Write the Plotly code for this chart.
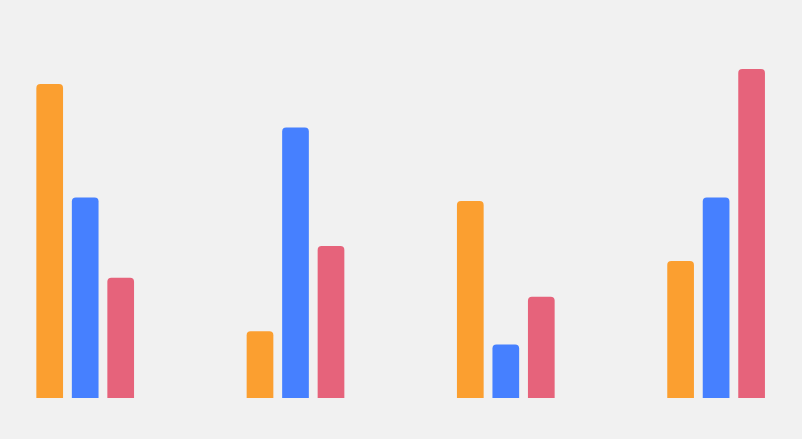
import plotly.graph_objects as go

groups = [0, 1, 2, 3]
orange_vals = [94, 20, 59, 41]
blue_vals = [60, 81, 16, 60]
pink_vals = [36, 45.5, 30.3, 98.5]

pitch_px = 210.3
bar_w = 26.7 / pitch_px
step = 35.5 / pitch_px

fig = go.Figure()
for vals, color, off in [(orange_vals, "#FB9F30", -1), (blue_vals, "#4680FF", 0), (pink_vals, "#E6637B", 1)]:
    fig.add_trace(go.Bar(x=groups, y=vals, marker=dict(color=color, line=dict(width=0)),
                         width=bar_w, offset=off * step - bar_w / 2, showlegend=False, hoverinfo="y"))

x0 = -85.2 / pitch_px
fig.update_layout(
    width=802, height=439,
    margin=dict(l=0, r=0, t=0, b=41),
    paper_bgcolor="#F1F1F1", plot_bgcolor="#F1F1F1",
    barcornerradius=4,
    xaxis=dict(range=[x0, x0 + 802 / pitch_px], visible=False, showgrid=False, zeroline=False),
    yaxis=dict(range=[0, 398 / 3.34], visible=False, showgrid=False, zeroline=False),
)
fig.write_html("out.html")
